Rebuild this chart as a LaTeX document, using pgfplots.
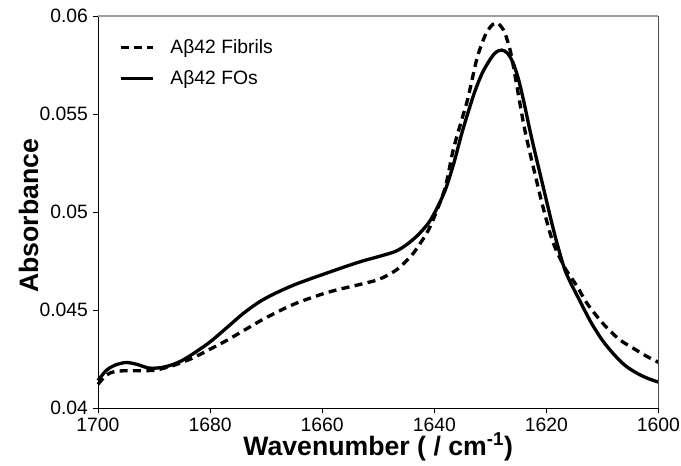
\documentclass[border=0pt]{standalone}
\usepackage{fontspec}
\setmainfont{Liberation Sans}
\usepackage{pgfplots}
\pgfplotsset{compat=1.18}
\usepackage{pgfplotstable}

% FTIR amide I region
\pgfplotstableread{
w A
1700 0.04140
1698.5 0.04192
1697 0.04218
1695 0.04232
1693 0.04222
1691 0.04204
1689 0.04205
1687 0.04218
1685 0.04242
1683 0.04277
1680 0.04337
1677 0.04410
1674 0.04484
1671 0.04545
1668 0.04590
1665 0.04628
1662 0.04660
1659 0.04690
1656 0.04720
1653 0.04748
1650 0.04772
1647 0.04798
1645 0.04832
1643 0.04880
1641 0.04945
1639.5 0.05020
1638 0.05115
1636.5 0.05250
1635 0.05410
1633 0.05595
1631.5 0.05705
1630 0.05780
1629 0.05815
1628 0.05826
1627 0.05812
1626 0.05765
1625 0.05680
1624 0.05560
1623 0.05425
1622 0.05300
1621 0.05180
1620 0.05060
1619 0.04940
1618 0.04830
1616.5 0.04690
1614 0.04545
1612 0.04435
1610 0.04345
1608 0.04275
1606 0.04218
1604 0.04180
1602 0.04152
1600 0.04132
}\fos

\pgfplotstableread{
w A
1700 0.04120
1698.5 0.04168
1697 0.04186
1695 0.04190
1693 0.04190
1690 0.04192
1688 0.04205
1686 0.04222
1683 0.04256
1680 0.04300
1677 0.04345
1674 0.04395
1671 0.04445
1668 0.04490
1665 0.04530
1662 0.04562
1659 0.04590
1656 0.04612
1653 0.04632
1650 0.04655
1647.5 0.04690
1646 0.04722
1644 0.04780
1642.5 0.04840
1641 0.04910
1639.5 0.05010
1638 0.05130
1636.6 0.05319
1635 0.05480
1634 0.05580
1632.5 0.05770
1631.5 0.05860
1630.5 0.05925
1629.5 0.05958
1629 0.05965
1628.5 0.05960
1627.5 0.05920
1626.5 0.05830
1626 0.05760
1625 0.05600
1624 0.05440
1623 0.05310
1622 0.05190
1621 0.05070
1620 0.04960
1619 0.04860
1618 0.04790
1616.5 0.04705
1614.5 0.04620
1612.8 0.04536
1610 0.04434
1607 0.04350
1604 0.04296
1602 0.04262
1600 0.04233
}\fibrils

\begin{document}
\begin{tikzpicture}
\begin{axis}[
    scale only axis,
    width=420.4pt, height=294pt,
    x dir=reverse,
    xmin=1600, xmax=1700,
    ymin=0.04, ymax=0.06,
    xtick={1600,1620,...,1700},
    ytick={0.04,0.045,0.05,0.055,0.06},
    scaled y ticks=false,
    /pgf/number format/assume math mode=true,
    xticklabel style={/pgf/number format/1000 sep={}},
    yticklabel style={/pgf/number format/fixed,/pgf/number format/precision=3},
    tick label style={font=\fontsize{14.5}{16}\selectfont},
    tick align=outside,
    major tick length=4pt,
    tick style={black, line width=0.6pt},
    axis x line*=bottom,
    axis y line*=left,
    axis line style={black, line width=0.6pt},
    xlabel={Wavenumber ( / cm\textsuperscript{-1})},
    ylabel={Absorbance},
    every axis x label/.style={at={(axis description cs:0.5,0)}, yshift=-29pt, anchor=center,
        font=\fontsize{20}{22}\selectfont\bfseries},
    every axis y label/.style={at={(axis description cs:0,0.49)}, xshift=-52pt, rotate=90, anchor=center,
        font=\fontsize{20}{22}\selectfont\bfseries},
    legend style={draw=none, fill=none, at={(axis description cs:0.03,0.955)}, anchor=north west,
        font=\fontsize{14.5}{16}\selectfont, row sep=7.5pt, cells={anchor=west}},
    legend image code/.code={\draw[#1] (0pt,0pt) -- (24pt,0pt); \path (34pt,0pt);},
    clip=false,
    after end axis/.code={
        \draw[gray!75, line width=1.5pt] (rel axis cs:0,1) -- (rel axis cs:1,1);
        \draw[black!70, line width=0.6pt] (rel axis cs:1,0) -- (rel axis cs:1,1);
    },
]
\addplot[black, line width=2.5pt, dash pattern=on 6pt off 4pt, smooth] table[x=w, y=A] {\fibrils};
\addlegendentry{Aβ42 Fibrils}
\addplot[black, line width=2.5pt, smooth] table[x=w, y=A] {\fos};
\addlegendentry{Aβ42 FOs}
\end{axis}
\pgfresetboundingbox
\path (-73.5pt,-43.5pt) rectangle (437.3pt,306pt);
\end{tikzpicture}
\end{document}
